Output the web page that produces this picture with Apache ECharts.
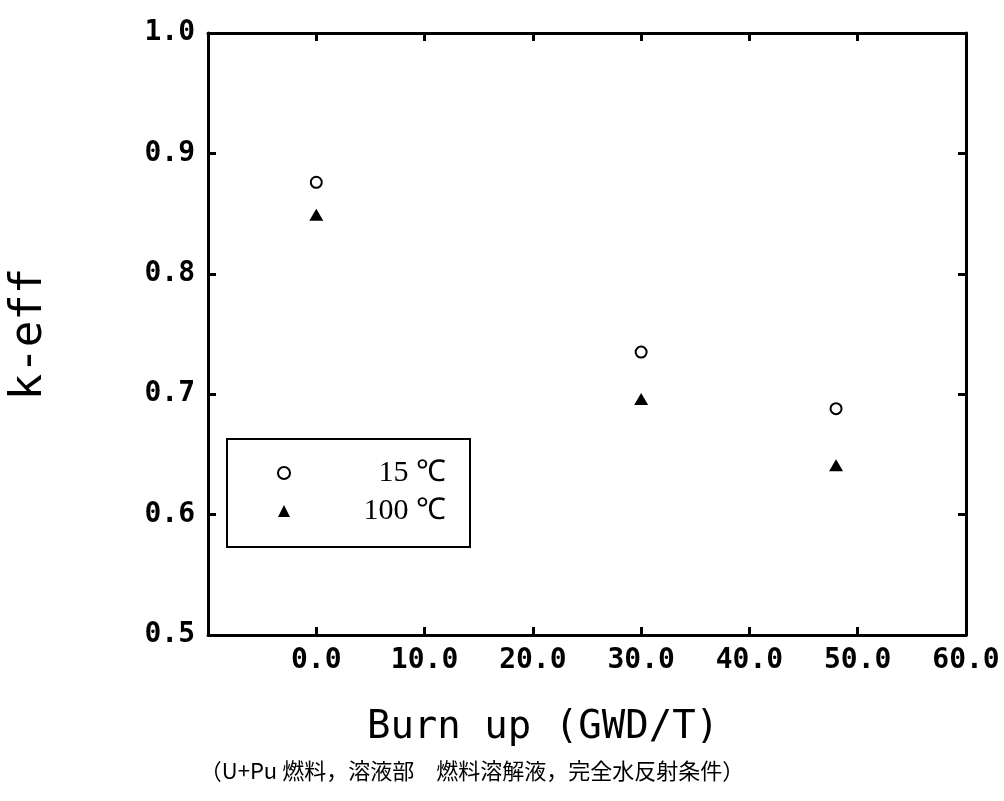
<!DOCTYPE html>
<html>
<head>
<meta charset="utf-8">
<title>k-eff vs Burn up</title>
<script src="https://cdn.jsdelivr.net/npm/echarts@6/dist/echarts.min.js"></script>
<style>
  html, body { margin: 0; padding: 0; background: #fff; }
  #chart { width: 1004px; height: 801px; }
</style>
</head>
<body>
<div id="chart"></div>
<script>
// burn up (GWD/T) and k-eff
const burnup = [0, 30, 48]
const keff15 = [0.876, 0.735, 0.688]
const keff100 = [0.849, 0.696, 0.641]
const seriesNames = ['15 ℃', '100 ℃']
const caption = '（U+Pu 燃料，溶液部　燃料溶解液，完全水反射条件）'

const tickFont = { fontFamily: 'DejaVu Sans Mono', fontWeight: 'bold', fontSize: 28, color: '#000' }
const axisLine = { show: true, onZero: false, lineStyle: { color: '#000', width: 3 } }
const axisTick = { show: true, inside: true, length: 8, lineStyle: { color: '#000', width: 3 } }

const chart = echarts.init(document.getElementById('chart'))

const toPoints = (xs, ys) => xs.map((x, i) => [x, ys[i]])

const option = {
  backgroundColor: '#fff',
  animation: false,
  grid: { left: 208, right: 38, top: 33, bottom: 166, containLabel: false, outerBoundsMode: 'none' },
  legend: {
    orient: 'vertical',
    left: 227,
    top: 439,
    padding: [19, 24, 21, 50],
    itemGap: 8,
    itemWidth: 12,
    itemHeight: 12,
    borderColor: '#000',
    borderWidth: 2,
    borderRadius: 0,
    data: [
      { name: seriesNames[0], icon: 'emptyCircle' },
      { name: seriesNames[1], icon: 'triangle' }
    ],
    formatter: name => '{r|' + name + '}',
    textStyle: {
      rich: {
        r: { width: 151, height: 30, align: 'right', fontFamily: 'Liberation Serif', fontSize: 30, color: '#000' }
      }
    }
  },
  xAxis: [
    {
      type: 'value',
      min: -10,
      max: 60,
      interval: 10,
      position: 'bottom',
      axisLine,
      axisTick,
      splitLine: { show: false },
      axisLabel: { ...tickFont, margin: 12, formatter: v => (v < 0 ? '' : v.toFixed(1)) },
      name: 'Burn up (GWD/T)',
      nameLocation: 'middle',
      nameGap: 73,
      nameTextStyle: { fontFamily: 'DejaVu Sans Mono', fontSize: 39, color: '#000', padding: [0, 88, 0, 0] }
    },
    {
      type: 'value',
      min: -10,
      max: 60,
      interval: 10,
      position: 'top',
      axisLine,
      axisTick,
      splitLine: { show: false },
      axisLabel: { show: false }
    }
  ],
  yAxis: [
    {
      type: 'value',
      min: 0.5,
      max: 1.0,
      interval: 0.1,
      position: 'left',
      axisLine,
      axisTick,
      splitLine: { show: false },
      axisLabel: { ...tickFont, margin: 13, formatter: v => v.toFixed(1) },
      name: 'k-eff',
      nameLocation: 'middle',
      nameGap: 156,
      nameTextStyle: { fontFamily: 'DejaVu Sans Mono', fontSize: 44, color: '#000' }
    },
    {
      type: 'value',
      min: 0.5,
      max: 1.0,
      interval: 0.1,
      position: 'right',
      axisLine,
      axisTick,
      splitLine: { show: false },
      axisLabel: { show: false }
    }
  ],
  series: [
    {
      name: seriesNames[0],
      type: 'scatter',
      symbol: 'emptyCircle',
      symbolSize: 11,
      itemStyle: { color: '#000', borderColor: '#000', borderWidth: 2.5, opacity: 1 },
      data: toPoints(burnup, keff15)
    },
    {
      name: seriesNames[1],
      type: 'scatter',
      symbol: 'triangle',
      symbolSize: [14, 12],
      itemStyle: { color: '#000', opacity: 1 },
      data: toPoints(burnup, keff100)
    }
  ],
  graphic: [
    {
      type: 'text',
      x: 472,
      y: 771,
      style: {
        text: caption,
        fontFamily: 'Noto Sans CJK JP',
        fontSize: 22,
        fill: '#000',
        align: 'center',
        verticalAlign: 'middle'
      }
    }
  ]
}

chart.setOption(option)
</script>
</body>
</html>
